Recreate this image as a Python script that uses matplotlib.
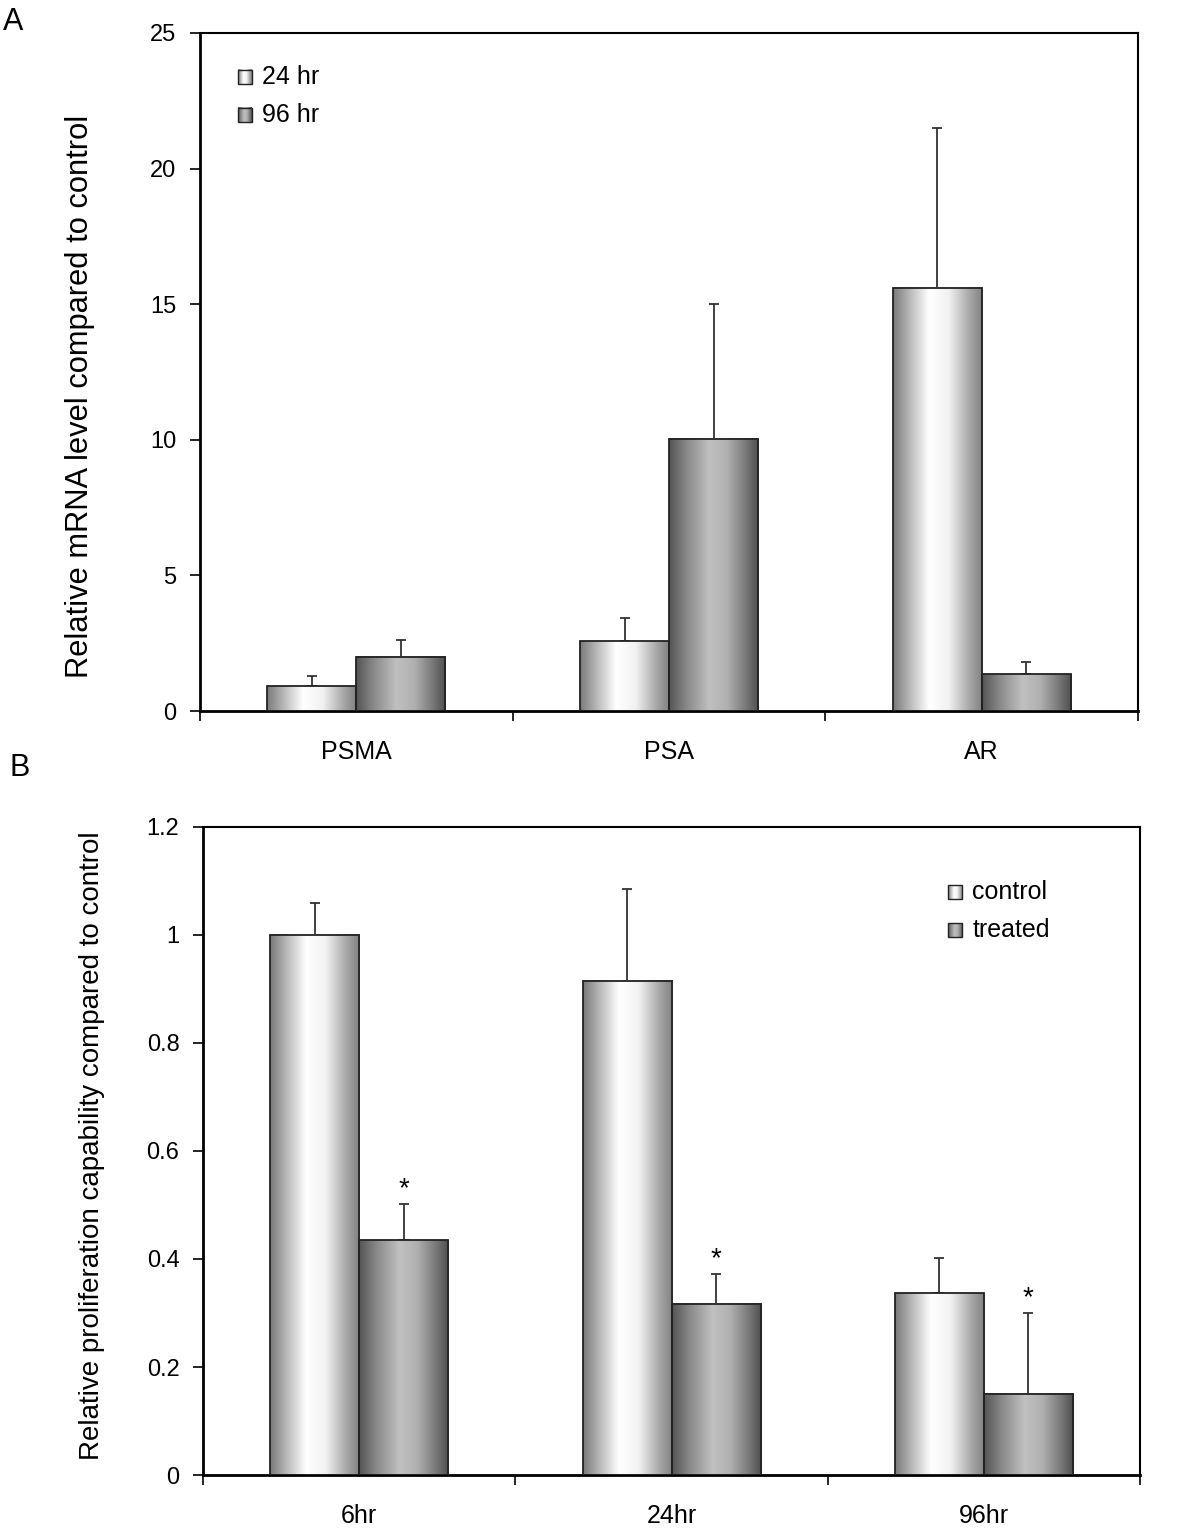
import numpy as np
import matplotlib
matplotlib.use('Agg')
import matplotlib.pyplot as plt
from matplotlib.colors import LinearSegmentedColormap

plt.rcParams['font.family'] = ['Liberation Sans', 'DejaVu Sans']

# Panel A data
genes = ['PSMA', 'PSA', 'AR']
a_labels = ['24 hr', '96 hr']
a_24 = [0.92, 2.58, 15.6]
a_24_err = [0.37, 0.85, 5.9]
a_96 = [2.0, 10.03, 1.36]
a_96_err = [0.6, 4.97, 0.44]

# Panel B data
times = ['6hr', '24hr', '96hr']
b_labels = ['control', 'treated']
b_ctrl = [1.0, 0.915, 0.337]
b_ctrl_err = [0.059, 0.17, 0.065]
b_trt = [0.435, 0.317, 0.15]
b_trt_err = [0.067, 0.055, 0.15]

# gradient colormaps (left -> right across a bar)
light_cmap = LinearSegmentedColormap.from_list(
    'light', [(0, '#7a7a7a'), (0.2, '#bdbdbd'), (0.4, '#ffffff'),
              (0.62, '#f2f2f2'), (0.85, '#a8a8a8'), (1, '#808080')])
dark_cmap = LinearSegmentedColormap.from_list(
    'dark', [(0, '#555555'), (0.2, '#8a8a8a'), (0.45, '#c0c0c0'),
             (0.65, '#b0b0b0'), (0.85, '#7a7a7a'), (1, '#4e4e4e')])
grad = np.linspace(0, 1, 256).reshape(1, -1)

bar_w = 0.285


def gradient_bars(ax, xs, heights, errs, cmap):
    for x, h, e in zip(xs, heights, errs):
        x0 = x - bar_w / 2
        ax.imshow(grad, extent=[x0, x0 + bar_w, 0, h], aspect='auto',
                  cmap=cmap, vmin=0, vmax=1, zorder=2, interpolation='bicubic')
        ax.add_patch(plt.Rectangle((x0, 0), bar_w, h, fill=False,
                                   edgecolor='#222222', linewidth=1.3, zorder=3))
    ax.errorbar(xs, heights, yerr=[np.zeros(len(errs)), errs], fmt='none',
                ecolor='#333333', elinewidth=1.3, capsize=3.5, capthick=1.3, zorder=1)


def legend_swatch(ax, x0, y0, w, h, cmap, label):
    ax.imshow(grad, extent=[x0, x0 + w, y0, y0 + h], transform=ax.transAxes,
              aspect='auto', cmap=cmap, vmin=0, vmax=1, zorder=4)
    ax.add_patch(plt.Rectangle((x0, y0), w, h, fill=False, edgecolor='#222222',
                               linewidth=1.0, transform=ax.transAxes, zorder=5))
    ax.text(x0 + w + 0.011, y0 + h / 2, label, transform=ax.transAxes,
            fontsize=18, va='center', ha='left')


def style_axes(ax, ylim, yticks, ytlabels, cats):
    ax.set_xlim(-0.5, 2.5)
    ax.set_ylim(*ylim)
    ax.set_yticks(yticks)
    ax.set_yticklabels(ytlabels, fontsize=17)
    ax.set_xticks([-0.5, 0.5, 1.5, 2.5])
    ax.set_xticklabels([])
    ax.set_xticks([0, 1, 2], minor=True)
    ax.set_xticklabels(cats, minor=True, fontsize=18)
    ax.tick_params(axis='x', which='minor', length=0, pad=21)
    ax.tick_params(axis='x', which='major', direction='out', length=7, width=1.2)
    ax.tick_params(axis='y', direction='out', length=7, width=1.2, pad=10)
    for s in ['left', 'bottom']:
        ax.spines[s].set_linewidth(2.0)
    for s in ['top', 'right']:
        ax.spines[s].set_linewidth(1.5)


fig = plt.figure(figsize=(12, 15.32), dpi=100)

# Panel A
axA = fig.add_axes([0.1667, 0.5359, 0.7817, 0.4426])
xs = np.arange(len(genes))
gradient_bars(axA, xs - bar_w / 2, a_24, a_24_err, light_cmap)
gradient_bars(axA, xs + bar_w / 2, a_96, a_96_err, dark_cmap)
legend_swatch(axA, 0.0405, 0.9247, 0.0149, 0.0207, light_cmap, a_labels[0])
legend_swatch(axA, 0.0405, 0.8687, 0.0149, 0.0207, dark_cmap, a_labels[1])
style_axes(axA, (0, 25), [0, 5, 10, 15, 20, 25],
           ['0', '5', '10', '15', '20', '25'], genes)
axA.set_ylabel('Relative mRNA level compared to control', fontsize=22.2)
axA.yaxis.label.set_va('center')
axA.yaxis.set_label_coords(-0.128, 0.4646)

# Panel B
axB = fig.add_axes([0.1692, 0.0372, 0.7808, 0.4230])
xs = np.arange(len(times))
gradient_bars(axB, xs - bar_w / 2, b_ctrl, b_ctrl_err, light_cmap)
gradient_bars(axB, xs + bar_w / 2, b_trt, b_trt_err, dark_cmap)
for x, h, e in zip(xs + bar_w / 2, b_trt, b_trt_err):
    axB.text(x, h + e + 0.004, '*', ha='center', va='bottom', fontsize=20)
legend_swatch(axB, 0.795, 0.889, 0.015, 0.0216, light_cmap, b_labels[0])
legend_swatch(axB, 0.795, 0.8303, 0.015, 0.0216, dark_cmap, b_labels[1])
yt = [0, 0.2, 0.4, 0.6, 0.8, 1.0, 1.2]
style_axes(axB, (0, 1.2), yt, ['0', '0.2', '0.4', '0.6', '0.8', '1', '1.2'], times)
axB.set_ylabel('Relative proliferation capability compared to control', fontsize=20)
axB.yaxis.label.set_va('center')
axB.yaxis.set_label_coords(-0.118, 0.508)

fig.text(0.0025, 0.9855, 'A', fontsize=22, ha='left', va='center')
fig.text(0.008, 0.4985, 'B', fontsize=22, ha='left', va='center')

fig.savefig('out.png', dpi=100)
